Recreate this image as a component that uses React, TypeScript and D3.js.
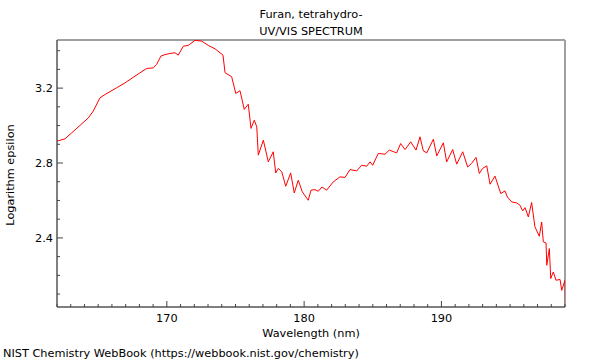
import React from 'react';
import * as d3 from 'd3';

// Furan, tetrahydro- UV/VIS spectrum
const wavelength = [
  162.0, 162.58, 163.07, 163.68, 164.28, 164.64, 165.13, 165.5, 166.35, 166.95,
  167.68, 168.53, 169.01, 169.26, 169.57, 169.87, 170.23, 170.59, 170.83, 171.2,
  171.56, 172.05, 172.54, 173.02, 173.51, 173.87, 174.09, 174.24, 174.72, 175.02,
  175.33, 175.64, 175.93, 176.13, 176.37, 176.55, 176.66, 177.03, 177.39, 177.75,
  177.93, 178.12, 178.37, 178.66, 179.02, 179.28, 179.57, 179.87, 180.3, 180.5,
  180.79, 181.03, 181.3, 181.64, 182.12, 182.61, 182.98, 183.34, 183.83, 184.19,
  184.56, 184.8, 184.99, 185.4, 185.89, 186.2, 186.74, 187.03, 187.35, 187.76,
  188.15, 188.44, 188.68, 188.93, 189.41, 189.66, 190.14, 190.38, 190.82, 191.11,
  191.55, 191.91, 192.2, 192.52, 192.76, 193.0, 193.3, 193.54, 193.9, 194.32,
  194.63, 194.8, 195.12, 195.48, 195.72, 195.92, 196.09, 196.33, 196.57, 196.81,
  197.13, 197.3, 197.42, 197.62, 197.67, 197.86, 197.96, 198.15, 198.34, 198.64,
  198.76, 199.0, 199.04,
];
const logEpsilon = [
  2.917, 2.929, 2.961, 3.001, 3.041, 3.077, 3.148, 3.166, 3.202, 3.228,
  3.264, 3.305, 3.308, 3.327, 3.371, 3.379, 3.385, 3.389, 3.376, 3.424,
  3.428, 3.455, 3.451, 3.428, 3.41, 3.389, 3.376, 3.282, 3.261, 3.172,
  3.186, 3.086, 3.114, 2.985, 3.029, 2.993, 2.842, 2.922, 2.806, 2.86,
  2.747, 2.771, 2.753, 2.676, 2.747, 2.64, 2.708, 2.646, 2.601, 2.655,
  2.658, 2.649, 2.672, 2.655, 2.699, 2.726, 2.723, 2.765, 2.758, 2.788,
  2.783, 2.806, 2.788, 2.851, 2.847, 2.869, 2.854, 2.904, 2.872, 2.913,
  2.869, 2.94, 2.865, 2.854, 2.927, 2.838, 2.908, 2.806, 2.872, 2.794,
  2.86, 2.779, 2.798, 2.83, 2.744, 2.771, 2.785, 2.687, 2.73, 2.637,
  2.651, 2.619, 2.592, 2.587, 2.575, 2.544, 2.562, 2.512, 2.589, 2.459,
  2.409, 2.485, 2.379, 2.373, 2.254, 2.343, 2.183, 2.218, 2.174, 2.178,
  2.12, 2.174, 1.95,
];

const xMajorTicks = [170, 180, 190];
const xMinorTicks = d3.range(162, 200);
const yMajorTicks = [2.4, 2.8, 3.2];
const yMinorTicks = d3.range(21, 35).map((v) => v / 10);

const W = 600;
const H = 360;
const plot = { left: 57, right: 565, top: 40, bottom: 307 };
const font = '"DejaVu Sans", Verdana, sans-serif';

const App: React.FC = () => {
  const x = d3.scaleLinear().domain([162, 199]).range([plot.left, plot.right]);
  const y = d3.scaleLinear().domain([2.031, 3.457]).range([plot.bottom, plot.top]);

  const points = wavelength.map((w, i) => [w, logEpsilon[i]] as [number, number]);
  const path = d3
    .line<[number, number]>()
    .x((d) => x(d[0]))
    .y((d) => y(d[1]))(points) || '';

  const cx = (plot.left + plot.right) / 2;

  return (
    <svg
      width={W}
      height={H}
      style={{ position: 'absolute', left: 0, top: 0, background: '#fff' }}
      fontFamily={font}
      fontSize={11.3}
    >
      <defs>
        <clipPath id="plotclip">
          <rect x={plot.left} y={plot.top} width={plot.right - plot.left} height={plot.bottom - plot.top} />
        </clipPath>
      </defs>

      {/* titles */}
      <text x={cx} y={18} textAnchor="middle" fill="#000">Furan, tetrahydro-</text>
      <text x={cx} y={35} textAnchor="middle" fill="#000">UV/VIS SPECTRUM</text>

      {/* frame: top and right lighter */}
      <line x1={plot.left} x2={plot.right} y1={plot.top} y2={plot.top} stroke="#a0a0a0" strokeWidth={2} />
      <line x1={plot.right} x2={plot.right} y1={plot.top} y2={plot.bottom} stroke="#a0a0a0" strokeWidth={2} />

      {/* spectrum */}
      <path d={path} fill="none" stroke="#ff0000" strokeWidth={1} clipPath="url(#plotclip)" />

      {/* x axis */}
      <line x1={plot.left} x2={plot.right} y1={plot.bottom} y2={plot.bottom} stroke="#555" strokeWidth={1.5} />
      {xMinorTicks.map((t) => (
        <line key={'xm' + t} x1={x(t)} x2={x(t)} y1={plot.bottom} y2={plot.bottom - (xMajorTicks.includes(t) ? 6 : 3)} stroke="#444" strokeWidth={1} />
      ))}
      {xMajorTicks.map((t) => (
        <text key={'xl' + t} x={x(t)} y={322} textAnchor="middle" fill="#000">{t}</text>
      ))}
      <text x={cx} y={337} textAnchor="middle" fill="#000">Wavelength (nm)</text>

      {/* y axis */}
      <line x1={plot.left} x2={plot.left} y1={plot.top} y2={plot.bottom} stroke="#555" strokeWidth={1.5} />
      {yMinorTicks.map((t) => (
        <line key={'ym' + t} x1={plot.left} x2={plot.left + (yMajorTicks.some((m) => Math.abs(m - t) < 1e-9) ? 6 : 3)} y1={y(t)} y2={y(t)} stroke="#444" strokeWidth={1} />
      ))}
      {yMajorTicks.map((t) => (
        <text key={'yl' + t} x={53} y={y(t)} dy="0.35em" textAnchor="end" fill="#000">{t.toFixed(1)}</text>
      ))}
      <text transform={`translate(14,175) rotate(-90)`} textAnchor="middle" fill="#000">Logarithm epsilon</text>

      {/* credit */}
      <text x={3} y={357} fill="#000">NIST Chemistry WebBook (https://webbook.nist.gov/chemistry)</text>
    </svg>
  );
};

export default App;
